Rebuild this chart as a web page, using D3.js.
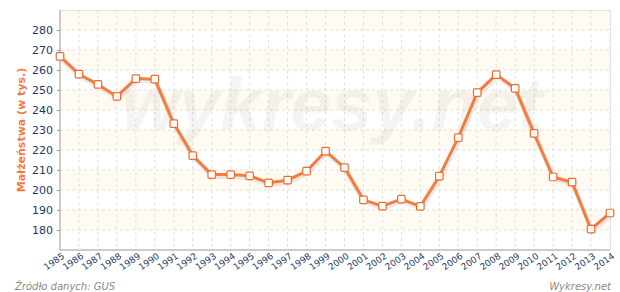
<!DOCTYPE html>
<html lang="pl">
<head>
<meta charset="UTF-8">
<script src="https://d3js.org/d3.v7.min.js"></script>
<style>
  body { margin: 0; background: #fff; }
  svg { display: block; font-family: "DejaVu Sans", Verdana, sans-serif; }
</style>
</head>
<body>
<script>
// Marriages in Poland (thousands), source GUS
const years = [1985, 1986, 1987, 1988, 1989, 1990, 1991, 1992, 1993, 1994,
               1995, 1996, 1997, 1998, 1999, 2000, 2001, 2002, 2003, 2004,
               2005, 2006, 2007, 2008, 2009, 2010, 2011, 2012, 2013, 2014];
const marriages = [266.8, 257.9, 252.8, 246.8, 255.7, 255.4, 233.2, 217.2, 207.7, 207.7,
                   207.1, 203.6, 204.9, 209.4, 219.4, 211.2, 195.1, 191.9, 195.4, 191.8,
                   206.9, 226.2, 248.7, 257.7, 250.8, 228.3, 206.5, 203.9, 180.4, 188.5];
const yTicks = [180, 190, 200, 210, 220, 230, 240, 250, 260, 270, 280];
const bands = [180, 200, 220, 240, 260, 280]; // cream bands, each 10 high

const W = 620, H = 292;
const svg = d3.select('body').append('svg')
    .attr('width', W)
    .attr('height', H);

const x = d3.scaleLinear().domain([1985, 2014]).range([60, 610]);
const y = d3.scaleLinear().domain([170, 290]).range([250, 10]);

// background bands
svg.append('g')
    .selectAll('rect')
    .data(bands)
    .enter()
    .append('rect')
    .attr('x', x(1985))
    .attr('width', x(2014) - x(1985))
    .attr('y', d => y(d + 10))
    .attr('height', d => y(d) - y(d + 10))
    .attr('fill', '#fffbf2');

// grid
svg.append('g')
    .selectAll('line')
    .data(yTicks)
    .enter()
    .append('line')
    .attr('x1', x(1985)).attr('x2', x(2014))
    .attr('y1', d => y(d)).attr('y2', d => y(d))
    .attr('stroke', '#e0e0e0')
    .attr('stroke-dasharray', '3,3');

svg.append('g')
    .selectAll('line')
    .data(years.slice(1))
    .enter()
    .append('line')
    .attr('x1', d => x(d)).attr('x2', d => x(d))
    .attr('y1', y(290)).attr('y2', y(170))
    .attr('stroke', '#e0e0e0')
    .attr('stroke-dasharray', '3,3');

// top and right border
svg.append('path')
    .attr('d', `M${x(1985)},${y(290) + 0.5}H${x(2014) + 0.5}V${y(170)}`)
    .attr('fill', 'none')
    .attr('stroke', '#e2e2e2');

// watermark
svg.append('text')
    .attr('x', 332)
    .attr('y', 130)
    .attr('text-anchor', 'middle')
    .attr('font-size', '74px')
    .attr('font-weight', 'bold')
    .attr('font-style', 'italic')
    .attr('font-family', '"Liberation Sans", Arial, sans-serif')
    .attr('fill', '#000')
    .attr('fill-opacity', 0.045)
    .text('wykresy.net');

// y axis
const yAxis = svg.append('g')
    .attr('transform', `translate(${x(1985)},0)`)
    .call(d3.axisLeft(y).tickValues(yTicks).tickSize(3).tickPadding(4));
yAxis.select('.domain').attr('stroke', '#999').attr('d', `M0,${y(290)}V${y(170)}`);
yAxis.selectAll('.tick line').attr('stroke', '#999');
yAxis.selectAll('text')
    .attr('fill', '#1d3a68')
    .attr('font-size', '11px')
    .attr('font-family', '"DejaVu Sans", sans-serif');

// x axis
const xAxis = svg.append('g')
    .attr('transform', `translate(0,${y(170)})`)
    .call(d3.axisBottom(x).tickValues(years).tickFormat(d3.format('d')).tickSize(0));
xAxis.select('.domain').attr('stroke', '#999').attr('d', `M${x(1985)},0H${x(2014)}`);
xAxis.selectAll('text')
    .attr('fill', '#1d3a68')
    .attr('font-size', '9px')
    .attr('font-family', '"DejaVu Sans", sans-serif')
    .attr('text-anchor', 'end')
    .attr('dy', 0)
    .attr('transform', 'translate(3,5) rotate(-35)');

// line with shadow
const line = d3.line()
    .x((d, i) => x(years[i]))
    .y(d => y(d));

svg.append('path')
    .datum(marriages)
    .attr('d', line)
    .attr('transform', 'translate(1,2)')
    .attr('fill', 'none')
    .attr('stroke', '#000')
    .attr('stroke-opacity', 0.08)
    .attr('stroke-width', 5);

svg.append('path')
    .datum(marriages)
    .attr('d', line)
    .attr('fill', 'none')
    .attr('stroke', '#f47c3e')
    .attr('stroke-width', 3)
    .attr('stroke-linejoin', 'round');

// markers
svg.append('g')
    .selectAll('rect')
    .data(marriages)
    .enter()
    .append('rect')
    .attr('x', (d, i) => x(years[i]) - 3.75)
    .attr('y', d => y(d) - 3.75)
    .attr('width', 7.5)
    .attr('height', 7.5)
    .attr('rx', 1.2)
    .attr('fill', '#fff')
    .attr('stroke', '#f06a2a')
    .attr('stroke-width', 1.2);

// y axis title
svg.append('text')
    .attr('transform', 'translate(25,130) rotate(-90)')
    .attr('text-anchor', 'middle')
    .attr('font-size', '11px')
    .attr('font-weight', 'bold')
    .attr('fill', '#f47c3e')
    .text('Małżeństwa (w tys.)');

// footer
svg.append('text')
    .attr('x', 15)
    .attr('y', 290)
    .attr('font-size', '10px')
    .attr('font-style', 'italic')
    .attr('fill', '#8a8a8a')
    .text('Źródło danych:  GUS');

svg.append('text')
    .attr('x', 611)
    .attr('y', 290)
    .attr('text-anchor', 'end')
    .attr('font-size', '10px')
    .attr('font-style', 'italic')
    .attr('fill', '#8a8a8a')
    .text('Wykresy.net');
</script>
</body>
</html>
